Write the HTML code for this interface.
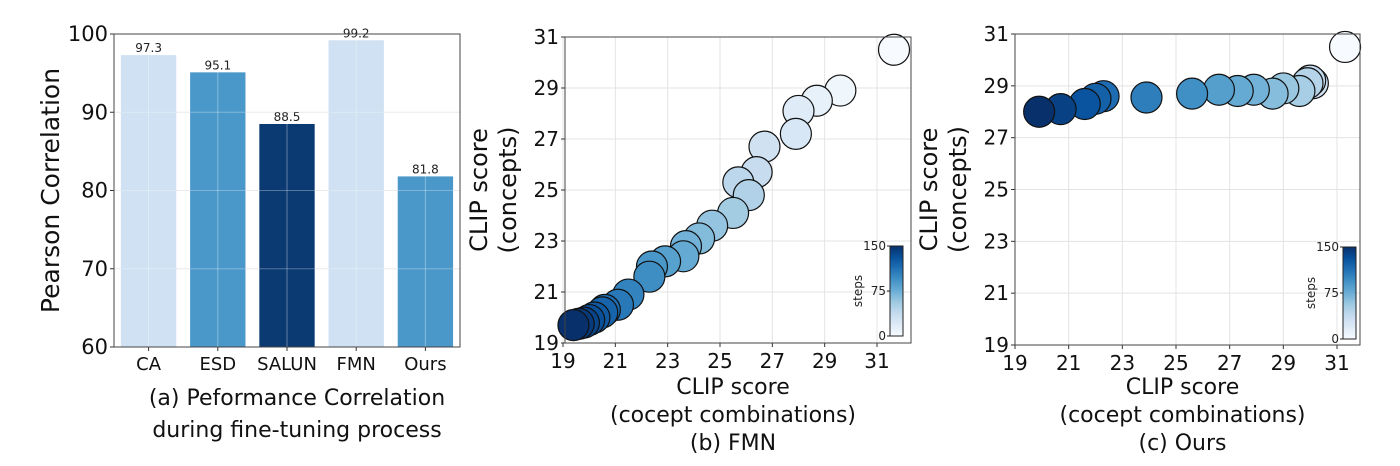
<!DOCTYPE html>
<html><head><meta charset="utf-8"><style>
body{margin:0;background:#fff;}
svg{display:block;font-family:"DejaVu Sans","Liberation Sans",sans-serif;}
</style></head><body>
<svg id="s" width="1400" height="466" viewBox="0 0 1400 466"></svg>
<script>
const barCats=["CA","ESD","SALUN","FMN","Ours"];
const barVals=[97.3,95.1,88.5,99.2,81.8];
const barColors=["#cfe1f2","#4a98c9","#0b3a73","#cfe1f2","#4a98c9"];
const barYTicks=[60,70,80,90,100];
const scatTicks=[19,21,23,25,27,29,31];
const cbTicks=[0,75,150];
const fmnX=[31.65,29.6,28.7,28.0,27.9,26.7,26.4,25.7,26.1,25.5,24.7,24.2,23.7,23.6,22.9,22.4,22.3,21.5,21.1,20.6,20.5,20.2,20.0,19.8,19.6,19.4];
const fmnY=[30.5,28.9,28.5,28.1,27.2,26.7,25.7,25.3,24.8,24.1,23.6,23.1,22.8,22.4,22.2,22.0,21.6,20.9,20.5,20.3,20.2,20.0,19.9,19.8,19.75,19.7];
const fmnSteps=[0,6,12,18,24,30,36,42,48,54,60,66,72,78,84,90,96,102,108,114,120,126,132,138,144,150];
const oursX=[31.3,30.1,30.0,29.9,29.6,29.0,28.6,27.9,27.3,26.6,25.6,23.9,22.3,22.0,21.6,20.7,19.9];
const oursY=[30.5,29.1,29.2,29.1,28.8,28.9,28.7,28.85,28.8,28.85,28.7,28.55,28.6,28.5,28.3,28.1,28.0];
const oursSteps=[0,30,38,45,52,58,65,72,78,85,95,105,115,122,130,140,150];

const NS="http://www.w3.org/2000/svg";
const S=document.getElementById('s');
function el(tag,attrs,parent,text){const e=document.createElementNS(NS,tag);for(const k in attrs)e.setAttribute(k,attrs[k]);if(text!==undefined)e.textContent=text;(parent||S).appendChild(e);return e;}
const blues=[[247,251,255],[222,235,247],[198,219,239],[158,202,225],[107,174,214],[66,146,198],[33,113,181],[8,81,156],[8,48,107]];
function blue(t){t=Math.max(0,Math.min(1,t))*(blues.length-1);const i=Math.min(Math.floor(t),blues.length-2),f=t-i;const c=blues[i].map((v,j)=>Math.round(v+(blues[i+1][j]-v)*f));return `rgb(${c})`;}

// ---- chart a ----
const A={l:114,r:460,t:34,b:347,min:60,max:100};
const ay=v=>A.b-(v-A.min)/(A.max-A.min)*(A.b-A.t);
const bw=(A.r-A.l)/5;
const ax=i=>A.l+bw*(i+0.5);
barYTicks.forEach(v=>{
  const g=el('line',{x1:A.l,x2:A.r,y1:ay(v),y2:ay(v),stroke:'#e3e3e3','stroke-width':1});
  
  const t=el('text',{x:A.l-6,y:ay(v)+7,'text-anchor':'end','font-size':21,fill:'#111'},S,v);
  
  el('line',{x1:A.l-4,x2:A.l,y1:ay(v),y2:ay(v),stroke:'#333'});
});
barCats.forEach((c,i)=>{
  const x=ax(i),w=bw*0.8;
  const r=el('rect',{x:x-w/2,y:ay(barVals[i]),width:w,height:A.b-ay(barVals[i]),fill:barColors[i]});
  
  el('line',{x1:x,x2:x,y1:A.t,y2:A.b,stroke:'#fff','stroke-opacity':0.35});
  const v=el('text',{x:x,y:ay(barVals[i])-3,'text-anchor':'middle','font-size':12,fill:'#222'},S,barVals[i].toFixed(1));
  
  const t=el('text',{x:x,y:370,'text-anchor':'middle','font-size':18,fill:'#111'},S,c);
  
  el('line',{x1:x,x2:x,y1:A.b,y2:A.b+4,stroke:'#333'});
});
barYTicks.forEach(v=>el('line',{x1:A.l,x2:A.r,y1:ay(v),y2:ay(v),stroke:'#fff','stroke-opacity':0.3}));
el('rect',{x:A.l,y:A.t,width:A.r-A.l,height:A.b-A.t,fill:'none',stroke:'#444','stroke-width':1});
let t=el('text',{x:0,y:0,transform:`translate(59,${(A.t+A.b)/2}) rotate(-90)`,'text-anchor':'middle','font-size':25,fill:'#111'},S,'Pearson Correlation');

t=el('text',{x:297,y:405,'text-anchor':'middle','font-size':22,fill:'#111'},S,'(a) Peformance Correlation');

el('text',{x:297,y:437,'text-anchor':'middle','font-size':22,fill:'#111'},S,'during fine-tuning process');

// ---- scatter charts ----
function scatter(P,xs,ys,steps,cap,name){
  const sx=v=>P.x0+(v-19)/12*(P.x1-P.x0);
  const sy=v=>P.y0-(v-19)/12*(P.y0-P.y1);
  scatTicks.forEach(v=>{
    el('line',{x1:sx(v),x2:sx(v),y1:P.t,y2:P.b,stroke:'#e3e3e3'});
    el('line',{x1:P.l,x2:P.r,y1:sy(v),y2:sy(v),stroke:'#e3e3e3'});
    el('line',{x1:sx(v),x2:sx(v),y1:P.b,y2:P.b+4,stroke:'#333'});
    el('line',{x1:P.l-4,x2:P.l,y1:sy(v),y2:sy(v),stroke:'#333'});
    const a=el('text',{x:sx(v),y:P.b+25,'text-anchor':'middle','font-size':20,fill:'#111'},S,v);
    
    const b=el('text',{x:P.l-6,y:sy(v)+7,'text-anchor':'end','font-size':20,fill:'#111'},S,v);
    
  });
  xs.forEach((x,i)=>{
    const c=el('circle',{cx:sx(x),cy:sy(ys[i]),r:15.5,fill:blue(steps[i]/150),stroke:'#111','stroke-width':1.2});
    
  });
  el('rect',{x:P.l,y:P.t,width:P.r-P.l,height:P.b-P.t,fill:'none',stroke:'#444'});
  const gid='g'+name;
  const d=el('defs',{});const lg=el('linearGradient',{id:gid,x1:0,y1:1,x2:0,y2:0},d);
  blues.forEach((c,i)=>el('stop',{offset:i/(blues.length-1),'stop-color':`rgb(${c})`},lg));
  const cb=el('rect',{x:P.cx,y:P.ct,width:13,height:P.cb-P.ct,fill:`url(#${gid})`,stroke:'#222'});
  
  cbTicks.forEach(v=>{
    const y=P.cb-v/150*(P.cb-P.ct);
    el('line',{x1:P.cx-3,x2:P.cx,y1:y,y2:y,stroke:'#222'});
    el('text',{x:P.cx-4,y:y+4,'text-anchor':'end','font-size':12,fill:'#222'},S,v);
  });
  el('text',{x:0,y:0,transform:`translate(${P.cx-28},${(P.ct+P.cb)/2}) rotate(-90)`,'text-anchor':'middle','font-size':12,fill:'#222'},S,'steps');
  const yt=el('text',{x:0,y:0,transform:`translate(${P.l-64},${(P.t+P.b)/2}) rotate(-90)`,'text-anchor':'middle','font-size':24,fill:'#111'},S);
  
  el('tspan',{x:0,dy:-14},yt,'CLIP score');el('tspan',{x:0,dy:29},yt,'(concepts)');
  const cx=(P.l+P.r)/2-5;
  const xt=el('text',{x:cx,y:394,'text-anchor':'middle','font-size':22,fill:'#111'},S,'CLIP score');
  
  el('text',{x:cx,y:422,'text-anchor':'middle','font-size':22,fill:'#111'},S,'(cocept combinations)');
  const cp=el('text',{x:cx,y:450,'text-anchor':'middle','font-size':22,fill:'#111'},S,cap);
  
}
scatter({l:565,r:911,t:37,b:343,x0:563,x1:877,y0:343,y1:37,cx:890,ct:246,cb:336},fmnX,fmnY,fmnSteps,'(b) FMN','fmn');
scatter({l:1015,r:1360,t:34,b:345,x0:1015,x1:1337,y0:345,y1:34,cx:1343,ct:247,cb:339},oursX,oursY,oursSteps,'(c) Ours','ours');
</script>
</body></html>
